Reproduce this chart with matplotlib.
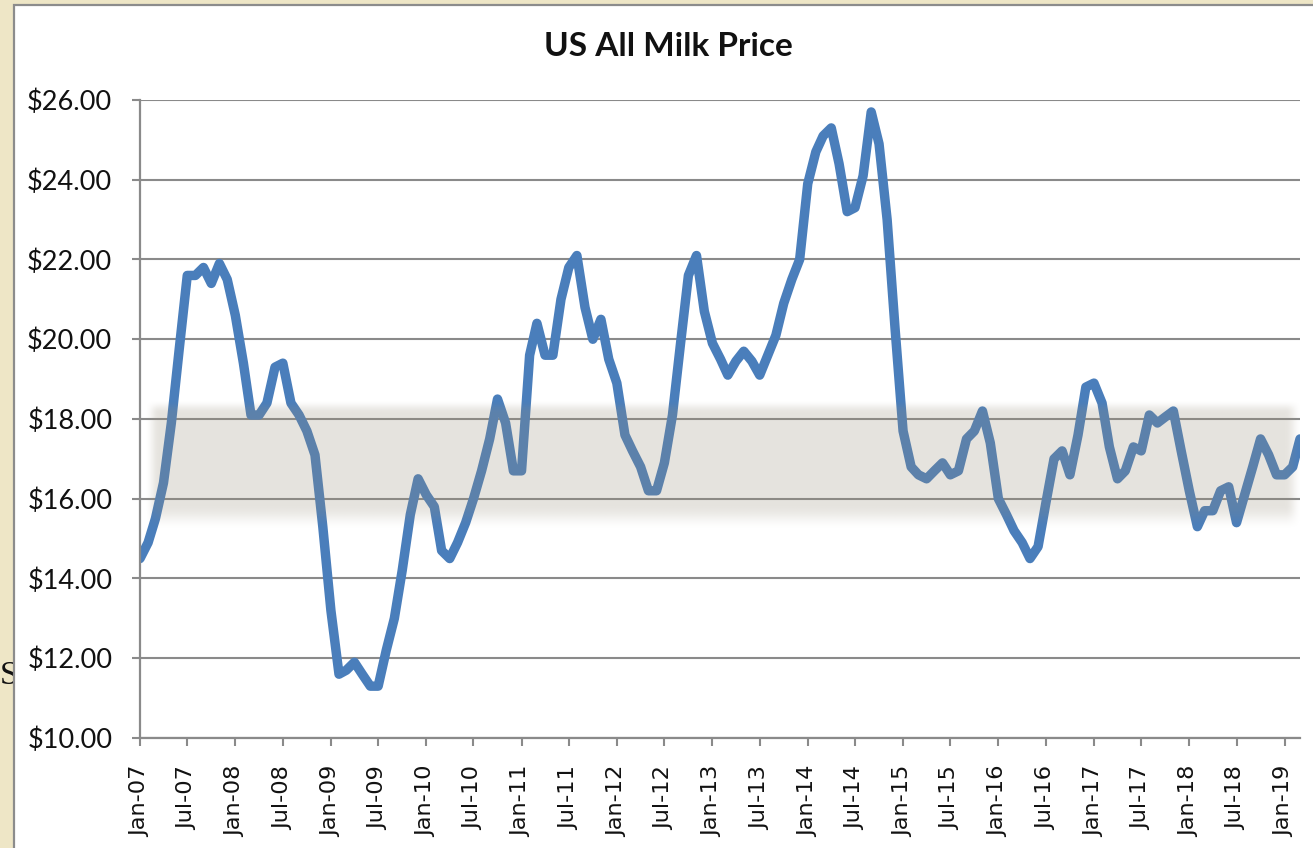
import numpy as np
import pandas as pd
import matplotlib
matplotlib.use("Agg")
import matplotlib.pyplot as plt
import matplotlib.transforms as mtransforms
from matplotlib.patches import Rectangle

# ---------------- data ----------------
title = "US All Milk Price"
first_month = "2007-01-01"

prices_2007 = [14.5, 14.9, 15.5, 16.4, 17.9, 19.8, 21.6, 21.6, 21.8, 21.4, 21.9, 21.5]
prices_2008 = [20.6, 19.4, 18.1, 18.1, 18.4, 19.3, 19.4, 18.4, 18.1, 17.7, 17.1, 15.3]
prices_2009 = [13.2, 11.6, 11.7, 11.9, 11.6, 11.3, 11.3, 12.2, 13.0, 14.2, 15.6, 16.5]
prices_2010 = [16.1, 15.8, 14.7, 14.5, 14.9, 15.4, 16.0, 16.7, 17.5, 18.5, 17.9, 16.7]
prices_2011 = [16.7, 19.6, 20.4, 19.6, 19.6, 21.0, 21.8, 22.1, 20.8, 20.0, 20.5, 19.5]
prices_2012 = [18.9, 17.6, 17.2, 16.8, 16.2, 16.2, 16.9, 18.1, 19.9, 21.6, 22.1, 20.7]
prices_2013 = [19.9, 19.5, 19.1, 19.45, 19.7, 19.45, 19.1, 19.6, 20.1, 20.9, 21.5, 22.0]
prices_2014 = [23.9, 24.7, 25.1, 25.3, 24.4, 23.2, 23.3, 24.1, 25.7, 24.9, 23.0, 20.3]
prices_2015 = [17.7, 16.8, 16.6, 16.5, 16.7, 16.9, 16.6, 16.7, 17.5, 17.7, 18.2, 17.4]
prices_2016 = [16.0, 15.6, 15.2, 14.9, 14.5, 14.8, 15.9, 17.0, 17.2, 16.6, 17.6, 18.8]
prices_2017 = [18.9, 18.4, 17.3, 16.5, 16.7, 17.3, 17.2, 18.1, 17.9, 18.05, 18.2, 17.2]
prices_2018 = [16.2, 15.3, 15.7, 15.7, 16.2, 16.3, 15.4, 16.1, 16.8, 17.5, 17.1, 16.6]
prices_2019 = [16.6, 16.8, 17.5]

prices = (prices_2007 + prices_2008 + prices_2009 + prices_2010 + prices_2011 +
          prices_2012 + prices_2013 + prices_2014 + prices_2015 + prices_2016 +
          prices_2017 + prices_2018 + prices_2019)

y_ticks = [10, 12, 14, 16, 18, 20, 22, 24, 26]
x_tick_first = "2007-01-01"
x_tick_last = "2019-01-01"

# shaded "normal" price range
band_low = 15.85
band_high = 18.15

# ---------------- figure ----------------
W, H = 1313, 848
fig = plt.figure(figsize=(W / 100, H / 100), dpi=100)
fig.patch.set_facecolor("#EEE6C6")

# stray slide text peeking out at the left
fig.text(0 / W, 1 - 676 / H, "S", fontfamily="Liberation Serif", fontsize=24,
         color="#111111", ha="left", va="center", zorder=0.2)

# white chart area with grey border
fig.add_artist(Rectangle((13.5 / W, -0.1), 1.2, (H - 5.5) / H + 0.1,
                         transform=fig.transFigure, facecolor="white",
                         edgecolor="#8C8C8C", linewidth=1.6, zorder=0.5))

ax = fig.add_axes([140 / W, 1 - 738 / H, (1300 - 140) / W, (738 - 100) / H])
ax.set_zorder(1)
ax.patch.set_facecolor("white")

months = pd.date_range(first_month, periods=len(prices), freq="MS")

ax.plot(months, prices, color="#4A7EBB", linewidth=6.8,
        solid_joinstyle="round", solid_capstyle="round", zorder=2)

# soft grey band drawn over the line (semi-transparent, blurred edges)
def smooth(t):
    t = np.clip(t, 0, 1)
    return t * t * (3 - 2 * t)

u = np.linspace(0.0, 1.0, 800)
v = np.linspace(band_low - 0.7, band_high + 0.45, 400)
fx = smooth((u - 0.004) / 0.012) * smooth((1.002 - u) / 0.014)
fy = smooth((v - (band_low - 0.62)) / 0.62) * smooth(((band_high + 0.33) - v) / 0.33)
alpha = 0.24 * np.outer(fy, fx)
rgba = np.zeros(alpha.shape + (4,))
rgba[..., 0] = 150 / 255
rgba[..., 1] = 141 / 255
rgba[..., 2] = 121 / 255
rgba[..., 3] = alpha
trans = mtransforms.blended_transform_factory(ax.transAxes, ax.transData)
ax.imshow(rgba, extent=(0, 1, v[0], v[-1]), origin="lower", aspect="auto",
          interpolation="bilinear", transform=trans, zorder=3)
ax.set_xlim(months[0], months[-1])
ax.set_ylim(y_ticks[0], y_ticks[-1])

# grid and axes styling
grid_color = "#8A8A8A"
ax.set_yticks(y_ticks)
ax.set_yticklabels([f"${t:.2f}" for t in y_ticks])
ax.yaxis.grid(True, color=grid_color, linewidth=1.5, zorder=1)
ax.set_axisbelow(True)

xt = pd.date_range(x_tick_first, x_tick_last, freq="6MS")
ax.set_xticks(xt)
ax.set_xticklabels([d.strftime("%b-%y") for d in xt], rotation=90,
                   fontfamily="DejaVu Sans", fontsize=16.2)

for s in ["top", "right"]:
    ax.spines[s].set_visible(False)
for s in ["left", "bottom"]:
    ax.spines[s].set_color(grid_color)
    ax.spines[s].set_linewidth(1.6)
    ax.spines[s].set_zorder(4)

ax.tick_params(axis="x", direction="out", length=6, width=1.5, color=grid_color,
               pad=14, labelcolor="#111111")
ax.tick_params(axis="y", direction="out", length=6, width=1.5, color=grid_color,
               pad=14, labelcolor="#111111", labelsize=19.5)
for lab in ax.get_yticklabels():
    lab.set_fontfamily("Lato")

fig.text(668 / W, 1 - 46 / H, title, ha="center", va="center",
         fontfamily="Lato", fontweight="bold", fontsize=24, color="#111111",
         zorder=2)

fig.savefig("out.png", dpi=100, facecolor=fig.get_facecolor())
